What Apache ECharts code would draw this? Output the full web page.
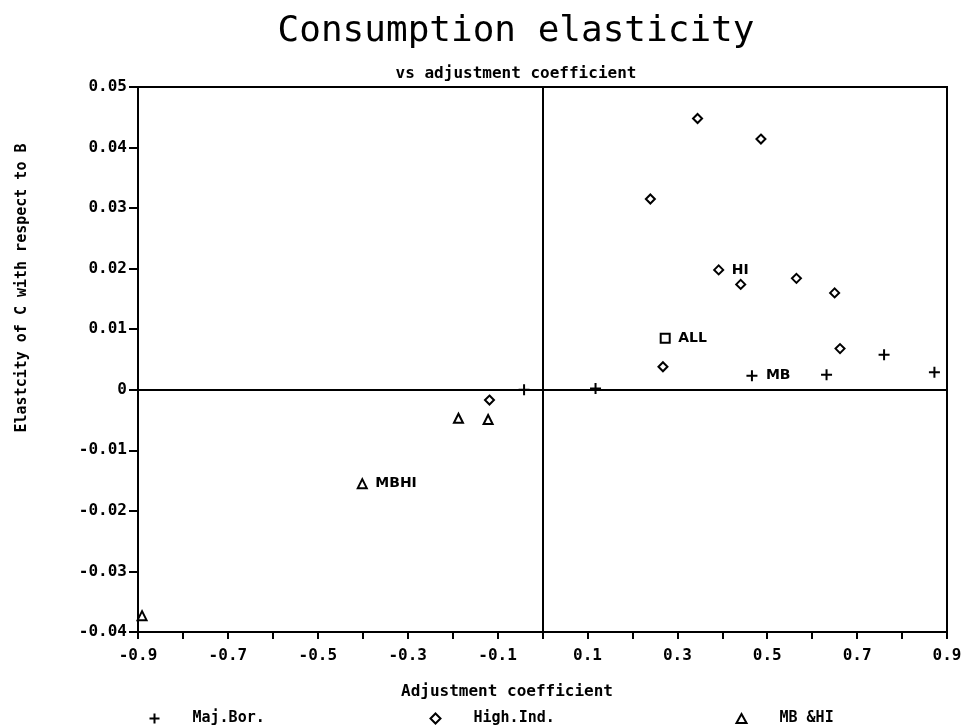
<!DOCTYPE html>
<html>
<head>
<meta charset="utf-8">
<script src="https://cdn.jsdelivr.net/npm/echarts@6/dist/echarts.min.js"></script>
<style>
  html, body { margin: 0; padding: 0; background: #fff; }
  #main { width: 965px; height: 725px; }
</style>
</head>
<body>
<div id="main"></div>
<script>
// values
var majBor = [[-0.041, 0.0], [0.118, 0.0002], [0.466, 0.0023], [0.632, 0.0025], [0.760, 0.0058], [0.872, 0.0029]];
var majBorLabels = ['', '', 'MB', '', '', ''];

var highInd = [[-0.118, -0.0017], [0.240, 0.0315], [0.268, 0.0038], [0.345, 0.0448], [0.392, 0.0198],
  [0.441, 0.0174], [0.486, 0.0414], [0.565, 0.0184], [0.650, 0.0160], [0.662, 0.0068]];
var highIndLabels = ['', '', '', '', 'HI', '', '', '', '', ''];

var mbHi = [[-0.891, -0.0373], [-0.401, -0.0155], [-0.187, -0.0047], [-0.121, -0.0049]];
var mbHiLabels = ['', 'MBHI', '', ''];

var allPoint = [[0.273, 0.0085]];
var allLabels = ['ALL'];

var PLUS = 'path://M5,0 L5,10 M0,5 L10,5';
var DIAMOND = 'path://M5,0 L10,5 L5,10 L0,5 Z';
var TRI = 'path://M5,0 L10,9 L0,9 Z';

var mono = 'DejaVu Sans Mono';

function withLabels(points, labels) {
  return points.map(function (p, i) {
    var item = { value: p };
    if (labels[i]) {
      item.label = { show: true, formatter: labels[i], position: 'right', distance: 6,
        color: '#000', fontFamily: 'DejaVu Sans', fontWeight: 'bold', fontSize: 14 };
    }
    return item;
  });
}

var markStyle = { color: 'none', borderColor: '#000', borderWidth: 2, opacity: 1 };

var chartDom = document.getElementById('main');
var myChart = echarts.init(chartDom);
var option;
option = {
  backgroundColor: '#fff',
  animation: false,
  title: [
    { text: 'Consumption elasticity', left: 511, top: 9, textAlign: 'center',
      textStyle: { fontFamily: mono, fontWeight: 'normal', fontSize: 36, color: '#000' } },
    { text: 'vs adjustment coefficient', left: 511, top: 61, textAlign: 'center',
      textStyle: { fontFamily: mono, fontWeight: 'bold', fontSize: 16, color: '#000' } }
  ],
  legend: [
    { data: ['Maj.Bor.'], left: 142, top: 706 },
    { data: ['High.Ind.'], left: 423, top: 706 },
    { data: ['MB &HI'], left: 729, top: 706 }
  ].map(function (l) {
    l.itemWidth = 10;
    l.itemHeight = 10;
    l.textStyle = { fontFamily: mono, fontWeight: 'bold', fontSize: 15, color: '#000', padding: [0, 0, 0, 28] };
    return l;
  }),
  graphic: [
    { type: 'text', x: 22, y: 288, rotation: Math.PI / 2,
      style: { text: 'Elastcity of C with respect to B', fill: '#000', align: 'center', verticalAlign: 'middle',
        font: 'bold 15px "DejaVu Sans Mono"' } },
    { type: 'text', x: 507, y: 692,
      style: { text: 'Adjustment coefficient', fill: '#000', align: 'center', verticalAlign: 'middle',
        font: 'bold 16px "DejaVu Sans Mono"' } }
  ],
  grid: {
    left: 138, right: 18, top: 87, bottom: 93,
    show: true, borderColor: '#000', borderWidth: 2, backgroundColor: 'transparent'
  },
  xAxis: {
    type: 'value', min: -0.9, max: 0.9, interval: 0.1,
    axisLine: { onZero: false, lineStyle: { color: '#000', width: 2 } },
    axisTick: { show: true, inside: false, length: 7, lineStyle: { color: '#000', width: 2 } },
    splitLine: { show: false },
    axisLabel: {
      margin: 16, color: '#000', fontFamily: mono, fontWeight: 'bold', fontSize: 16,
      formatter: function (v) {
        var k = Math.round((v + 0.9) * 10);
        return k % 2 === 0 ? v.toFixed(1) : '';
      }
    }
  },
  yAxis: {
    type: 'value', min: -0.04, max: 0.05, interval: 0.01,
    axisLine: { onZero: false, lineStyle: { color: '#000', width: 2 } },
    axisTick: { show: true, inside: false, length: 9, lineStyle: { color: '#000', width: 2 } },
    splitLine: { show: false },
    axisLabel: {
      margin: 11, color: '#000', fontFamily: mono, fontWeight: 'bold', fontSize: 16,
      formatter: function (v) {
        return Math.abs(v) < 1e-9 ? '0' : v.toFixed(2);
      }
    }
  },
  series: [
    {
      name: 'Maj.Bor.', type: 'scatter', symbol: PLUS, symbolSize: 11,
      itemStyle: markStyle,
      data: withLabels(majBor, majBorLabels),
      markLine: {
        silent: true, symbol: ['none', 'none'], label: { show: false },
        lineStyle: { color: '#000', width: 2, type: 'solid', opacity: 1 },
        data: [{ xAxis: 0 }, { yAxis: 0 }]
      }
    },
    {
      name: 'High.Ind.', type: 'scatter', symbol: DIAMOND, symbolSize: 9,
      itemStyle: markStyle,
      data: withLabels(highInd, highIndLabels)
    },
    {
      name: 'MB &HI', type: 'scatter', symbol: TRI, symbolSize: 9,
      itemStyle: markStyle,
      data: withLabels(mbHi, mbHiLabels)
    },
    {
      name: 'All', type: 'scatter', symbol: 'rect', symbolSize: 9,
      itemStyle: markStyle,
      data: withLabels(allPoint, allLabels)
    }
  ]
};

option && myChart.setOption(option);
</script>
</body>
</html>
